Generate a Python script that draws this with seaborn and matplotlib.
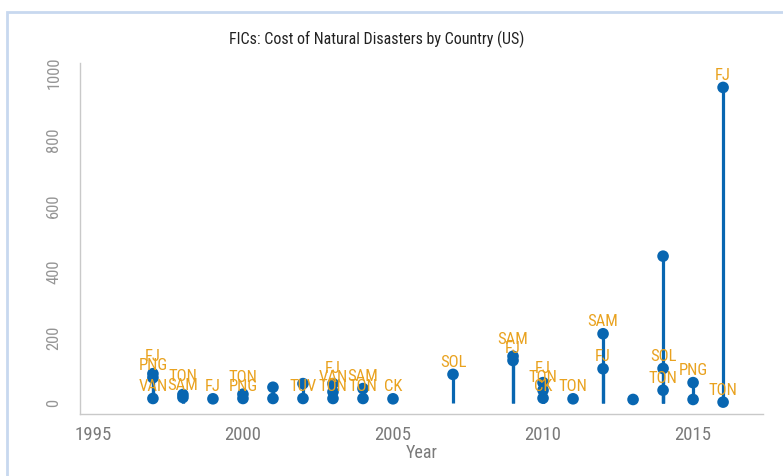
import matplotlib

matplotlib.use("Agg")

import matplotlib.pyplot as plt
import matplotlib.patches as mpatches
import pandas as pd
import seaborn as sns
from matplotlib import font_manager


# one row per disaster: year, cost (US), country code ("" = unlabeled)
years = [1997, 1997, 1997, 1998, 1998, 1999, 2000, 2000, 2001, 2001,
         2002, 2002, 2003, 2003, 2003, 2004, 2004, 2005, 2007, 2009,
         2009, 2010, 2010, 2010, 2011, 2012, 2012, 2013, 2014, 2014,
         2014, 2015, 2015, 2016, 2016]
costs = [90, 78, 15, 27, 18, 14, 28, 15, 49, 15,
         60, 15, 60, 35, 15, 45, 15, 14, 88, 143,
         130, 63, 40, 16, 14, 211, 105, 12, 446, 106,
         40, 63, 12, 957, 4]
countries = ["FJ", "PNG", "VAN", "TON", "SAM", "FJ", "TON", "PNG", "", "",
             "", "TUV", "FJ", "VAN", "TON", "SAM", "TON", "CK", "SOL", "SAM",
             "FJ", "FJ", "TON", "CK", "TON", "SAM", "FJ", "", "", "SOL",
             "TON", "PNG", "", "FJ", "TON"]

x_ticks = [1995, 2000, 2005, 2010, 2015]
y_ticks = [0, 200, 400, 600, 800, 1000]

BLUE = "#0866b1"
ORANGE = "#e9a21f"
AXIS = "#c9c9c9"

df = pd.DataFrame({"year": years, "cost": costs, "country": countries})

sns.set_style("white")
names = {f.name for f in font_manager.fontManager.ttflist}
narrow = [n for n in ["Liberation Sans Narrow", "Roboto Condensed", "Open Sans Condensed"] if n in names]
plt.rcParams["font.family"] = narrow + ["DejaVu Sans"]
if not narrow:
    plt.rcParams["font.stretch"] = "condensed"

fig = plt.figure(figsize=(7.83, 4.76), dpi=100)
ax = fig.add_axes([80 / 783, 62 / 476, 683 / 783, 351 / 476])
ax.set_xlim(1994.57, 2017.33)
ax.set_ylim(-32, 1031)

ax.vlines(df["year"], 0, df["cost"], color=BLUE, linewidth=2.3, zorder=2)
sns.scatterplot(data=df, x="year", y="cost", color=BLUE, s=70,
                edgecolor="none", ax=ax, zorder=3, legend=False)

# labels sit above their dot; push up when they would collide within a year
to_px = ax.transData.transform
for year, group in df[df["country"] != ""].groupby("year"):
    prev = None
    for _, row in group.sort_values("cost").iterrows():
        dot_px = to_px((row["year"], row["cost"]))[1]
        lab_px = dot_px + 12
        if prev is not None and lab_px - prev < 9:
            lab_px = prev + 9
        prev = lab_px
        ax.annotate(row["country"], (row["year"], row["cost"]),
                    xytext=(0, (lab_px - dot_px) * 0.72), textcoords="offset points",
                    ha="center", va="center", color=ORANGE, fontsize=12, zorder=4)

for side in ["top", "right"]:
    ax.spines[side].set_visible(False)
for side in ["left", "bottom"]:
    ax.spines[side].set_color(AXIS)
    ax.spines[side].set_linewidth(1)

ax.set_xticks(x_ticks)
ax.set_yticks(y_ticks)
ax.tick_params(axis="x", direction="inout", length=11, width=1, color=AXIS,
               labelcolor="#7a7a7a", labelsize=13.5, pad=3)
ax.tick_params(axis="y", direction="inout", length=11, width=1, color=AXIS,
               labelcolor="#959595", labelsize=12, pad=8, labelrotation=90)
for label in ax.get_yticklabels():
    label.set_verticalalignment("center")

ax.set_xlabel("Year", color="#7a7a7a", fontsize=13, labelpad=0)
ax.set_ylabel("")
fig.text(377 / 783, 1 - 39 / 476, "FICs: Cost of Natural Disasters by Country (US)",
         ha="center", va="center", fontsize=11.5, color="#222222")

fig.patches.append(mpatches.Rectangle((7 / 783, -0.1), 2, 1.1 - 12 / 476,
                                      transform=fig.transFigure, fill=False,
                                      edgecolor="#c8d8ef", linewidth=2))

fig.savefig("out.png", dpi=100)
plt.close(fig)
